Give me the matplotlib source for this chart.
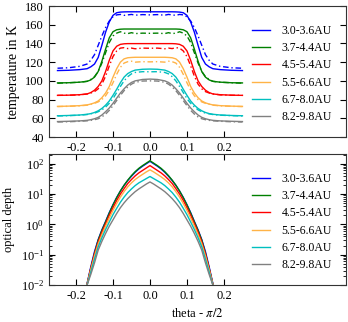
import numpy as np
import matplotlib
matplotlib.use("Agg")
import matplotlib.pyplot as plt
from matplotlib.ticker import LogLocator, NullFormatter

plt.rcParams['font.family'] = ['Liberation Serif', 'DejaVu Serif']
plt.rcParams['mathtext.fontset'] = 'stix'

# radial bins and colours
labels = ["3.0-3.6AU", "3.7-4.4AU", "4.5-5.4AU", "5.5-6.6AU", "6.7-8.0AU", "8.2-9.8AU"]
colors = ["#0000ff", "#008000", "#ff0000", "#ffb347", "#00bfbf", "#808080"]

# temperature profiles, left half (theta - pi/2 from -0.25 to 0), mirrored
theta_T = [-0.25, -0.22, -0.19, -0.17, -0.16, -0.15, -0.14, -0.13, -0.12, -0.11,
           -0.10, -0.09, -0.08, -0.07, -0.06, -0.05, -0.04, -0.02, 0.0]

T_model = [
    [111.0, 111.3, 112.0, 113.0, 115.0, 118.0, 125.0, 138.0, 152.0, 163.0,
     170.0, 172.8, 173.5, 173.7, 173.8, 173.8, 173.8, 173.8, 173.8],
    [97.8, 98.0, 98.6, 99.5, 101.0, 104.0, 110.0, 121.0, 134.0, 146.0,
     152.5, 154.6, 155.2, 155.4, 155.4, 155.4, 155.4, 155.4, 155.4],
    [84.5, 84.7, 85.2, 86.0, 87.5, 90.0, 94.0, 100.0, 110.0, 122.0,
     132.0, 137.0, 139.0, 139.6, 139.8, 139.8, 139.8, 139.8, 139.8],
    [72.7, 73.0, 73.5, 74.3, 75.2, 76.5, 78.5, 82.0, 87.0, 94.0,
     104.0, 113.0, 120.0, 123.5, 124.7, 125.0, 125.2, 125.2, 125.2],
    [62.7, 63.0, 63.5, 64.3, 65.0, 66.2, 68.0, 70.5, 74.0, 78.5,
     84.5, 91.0, 98.0, 104.0, 107.8, 110.0, 111.5, 112.4, 112.6],
    [56.5, 56.8, 57.2, 57.8, 58.5, 59.5, 61.0, 63.5, 67.0, 71.0,
     76.0, 81.5, 87.0, 91.5, 95.5, 98.3, 100.0, 101.5, 101.9],
]

T_sim = [
    [113.5, 114.0, 115.5, 118.0, 122.0, 128.0, 138.0, 148.0, 157.0, 164.0,
     168.5, 170.5, 171.0, 170.0, 170.5, 171.0, 170.2, 170.8, 170.5],
    [97.5, 98.0, 98.5, 99.5, 101.5, 104.5, 110.0, 119.0, 130.0, 141.0,
     148.0, 151.0, 152.5, 151.0, 150.5, 151.5, 150.5, 151.0, 150.8],
    [84.5, 84.6, 85.0, 86.0, 87.0, 88.5, 91.5, 96.5, 105.0, 116.0,
     126.0, 132.0, 135.0, 135.5, 134.5, 135.0, 134.3, 135.0, 134.8],
    [72.5, 72.8, 73.3, 74.0, 75.0, 76.0, 77.5, 80.0, 84.0, 90.0,
     98.0, 107.0, 114.5, 119.0, 120.5, 121.0, 120.0, 120.5, 120.3],
    [62.5, 62.8, 63.3, 64.0, 64.8, 65.5, 67.0, 69.0, 72.0, 76.0,
     81.0, 87.5, 94.0, 100.0, 104.5, 107.5, 109.0, 109.8, 109.7],
    [56.0, 56.3, 56.8, 57.3, 57.8, 58.5, 59.5, 61.5, 64.5, 68.5,
     73.5, 79.0, 84.5, 89.5, 93.5, 96.5, 98.5, 99.8, 100.0],
]

# optical depth, log10, left half, mirrored
theta_tau = [-0.25, -0.20, -0.18, -0.17, -0.16, -0.15, -0.14, -0.13, -0.12, -0.11,
             -0.10, -0.09, -0.08, -0.07, -0.06, -0.05, -0.04, -0.03, -0.02, -0.01, 0.0]
log_tau = [
    [-7.0, -3.8, -2.5, -1.95, -1.40, -0.90, -0.50, -0.18, 0.10, 0.39,
     0.65, 0.89, 1.10, 1.29, 1.45, 1.59, 1.72, 1.83, 1.92, 2.00, 2.08],
    [-7.0, -3.85, -2.52, -1.97, -1.45, -0.95, -0.52, -0.20, 0.08, 0.37,
     0.64, 0.88, 1.10, 1.29, 1.46, 1.61, 1.74, 1.85, 1.94, 2.02, 2.10],
    [-7.0, -3.7, -2.5, -1.97, -1.45, -0.98, -0.58, -0.26, 0.02, 0.30,
     0.55, 0.79, 1.00, 1.18, 1.35, 1.48, 1.60, 1.70, 1.78, 1.86, 1.94],
    [-7.0, -3.7, -2.5, -1.98, -1.50, -1.05, -0.65, -0.34, -0.06, 0.21,
     0.46, 0.69, 0.90, 1.08, 1.24, 1.37, 1.48, 1.57, 1.65, 1.73, 1.80],
    [-6.5, -3.6, -2.5, -2.00, -1.57, -1.15, -0.74, -0.44, -0.17, 0.08,
     0.32, 0.53, 0.73, 0.90, 1.05, 1.17, 1.28, 1.37, 1.44, 1.51, 1.58],
    [-6.0, -3.6, -2.5, -2.00, -1.65, -1.27, -0.85, -0.56, -0.30, -0.06,
     0.15, 0.36, 0.55, 0.71, 0.85, 0.97, 1.08, 1.17, 1.25, 1.33, 1.40],
]


def mirror(x, y):
    # symmetric profile about the midplane
    x = np.asarray(x)
    y = np.asarray(y)
    return np.concatenate([x, -x[-2::-1]]), np.concatenate([y, y[-2::-1]])


fig = plt.figure(figsize=(3.48, 3.22), dpi=100)
ax1 = fig.add_axes([49 / 348, 1 - 137 / 322, 297 / 348, 131 / 322])
ax2 = fig.add_axes([49 / 348, 1 - 285 / 322, 297 / 348, 131 / 322])

for i in range(len(labels)):
    x, y = mirror(theta_T, T_model[i])
    ax1.plot(x, y, color=colors[i], lw=1.0, label=labels[i])
    x, y = mirror(theta_T, T_sim[i])
    ax1.plot(x, y, color=colors[i], lw=1.0, dashes=(4, 2, 1, 2))

for i in range(len(labels)):
    x, y = mirror(theta_tau, log_tau[i])
    ax2.plot(x, 10.0 ** y, color=colors[i], lw=1.0, label=labels[i])

ax1.set_xlim(-0.273, 0.53)
ax1.set_ylim(40, 180)
ax1.set_yticks(np.arange(40, 181, 20))
ax1.set_ylabel("temperature in K", fontsize=10)

ax2.set_xlim(-0.273, 0.53)
ax2.set_yscale("log")
ax2.set_ylim(1e-2, 210)
ax2.yaxis.set_major_locator(LogLocator(base=10, numticks=10))
ax2.yaxis.set_minor_locator(LogLocator(base=10, subs=np.arange(2, 10), numticks=10))
ax2.yaxis.set_minor_formatter(NullFormatter())
ax2.set_ylabel("optical depth", fontsize=9)
ax2.set_xlabel(r"theta - $\pi/2$", fontsize=9)

for ax in (ax1, ax2):
    ax.set_xticks([-0.2, -0.1, 0.0, 0.1, 0.2])
    ax.set_xticklabels(["-0.2", "-0.1", "0.0", "0.1", "0.2"])
    ax.tick_params(which="both", direction="in", top=True, right=True, labelsize=9)
    ax.tick_params(which="major", length=4, width=0.8)
    ax.tick_params(which="minor", length=2, width=0.6)
    for s in ax.spines.values():
        s.set_linewidth(0.8)
        s.set_color("#333333")
    ax.legend(loc="center left", bbox_to_anchor=(0.683, 0.48), frameon=False,
              fontsize=8.5, borderpad=0, borderaxespad=0, handlelength=1.5,
              handletextpad=1.0, labelspacing=0.45)

fig.savefig("out.png", dpi=100)
